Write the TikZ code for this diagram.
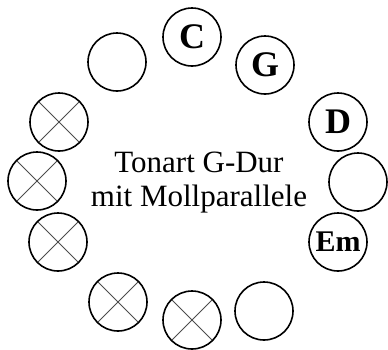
\documentclass[tikz,border=0pt]{standalone}
\usepackage{fontspec}
\setmainfont{Liberation Serif}
\begin{document}
\begin{tikzpicture}[x=1pt,y=-1pt,
  ring/.style={circle, draw=black, line width=1.6pt, minimum size=58pt, inner sep=0pt,
    font=\fontsize{36}{36}\selectfont\bfseries},
  crossed/.style={ring, path picture={
    \draw[black!70, line width=1pt]
      (path picture bounding box.north west) -- (path picture bounding box.south east)
      (path picture bounding box.north east) -- (path picture bounding box.south west);}},
  small/.style={font=\fontsize{30}{30}\selectfont\bfseries}]
\useasboundingbox (0,0) rectangle (388,349);
\node[ring] (c) at (192,37) {C};
\node[ring] (g) at (265,65) {G};
\node[ring] (d) at (338,122) {D};
\node[ring] (r) at (358,182) {};
\node[ring,small] (em) at (338,242) {Em};
\node[ring] (br) at (264,311) {};
\node[crossed] (bm) at (192,320) {};
\node[crossed] (bl) at (118,302) {};
\node[crossed] (lb) at (58,242) {};
\node[crossed] (lm) at (37,181) {};
\node[crossed] (lt) at (59,122) {};
\node[ring] (tl) at (117,62) {};
\node[align=center, inner sep=0pt, font=\fontsize{31}{34}\selectfont] (t) at (199,183)
  {Tonart G-Dur\\mit Mollparallele};
\end{tikzpicture}
\end{document}
